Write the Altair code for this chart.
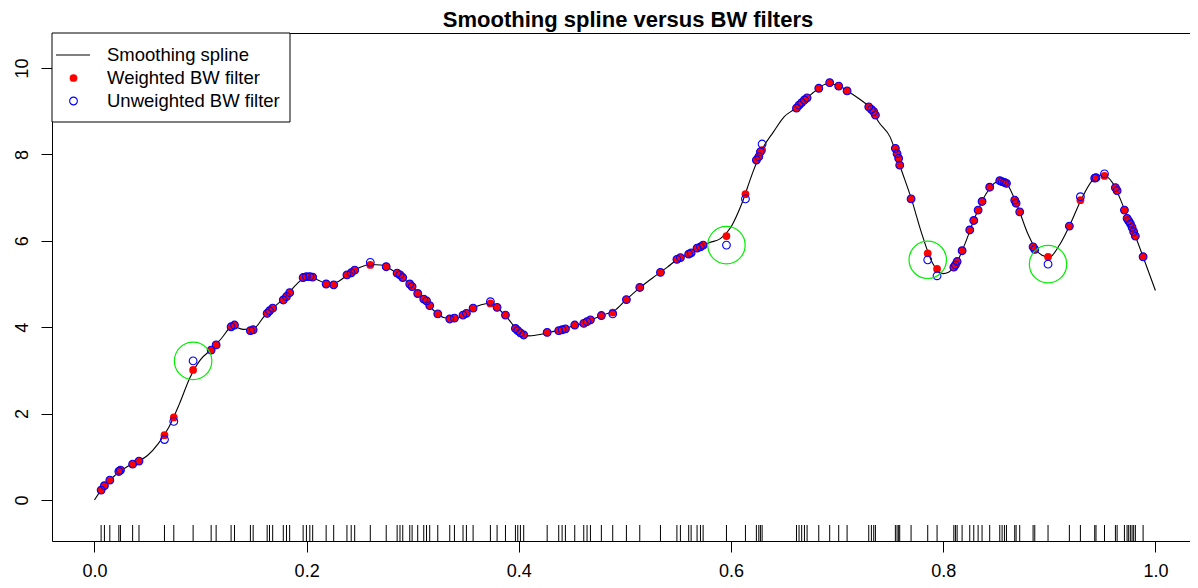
import altair as alt
import pandas as pd

# ---- data ----
x_obs = [0.0063, 0.0094, 0.0145, 0.023, 0.0245, 0.036, 0.042, 0.066, 0.0748, 0.093,
         0.110, 0.1147, 0.1288, 0.132, 0.147, 0.1496, 0.1628, 0.165, 0.168, 0.178,
         0.181, 0.184, 0.1967, 0.1998, 0.203, 0.2057, 0.2184, 0.2255, 0.238, 0.242,
         0.2453, 0.260, 0.275, 0.2853, 0.288, 0.2906, 0.2972, 0.2994, 0.3047, 0.3104,
         0.313, 0.316, 0.3236, 0.3349, 0.3393, 0.3474, 0.3506, 0.3569, 0.3732, 0.3795,
         0.3874, 0.3968, 0.399, 0.4015, 0.4046, 0.4267, 0.4376, 0.4408, 0.4439, 0.4527,
         0.4612, 0.4643, 0.4675, 0.4778, 0.4885, 0.5014, 0.514, 0.5335, 0.549, 0.5523,
         0.5601, 0.5624, 0.568, 0.5712, 0.5737, 0.5957, 0.6136, 0.6239, 0.6262, 0.6277,
         0.6293, 0.6617, 0.6641, 0.6666, 0.6692, 0.6717, 0.6827, 0.693, 0.7015, 0.7094,
         0.7298, 0.7323, 0.7345, 0.7361, 0.7549, 0.7565, 0.758, 0.759, 0.7697, 0.7854,
         0.7942, 0.810, 0.8115, 0.8131, 0.8178, 0.825, 0.8288, 0.8329, 0.8366, 0.8438,
         0.8533, 0.8555, 0.8577, 0.8596, 0.8674, 0.8687, 0.8721, 0.8847, 0.8863, 0.8988,
         0.9189, 0.9293, 0.9428, 0.944, 0.952, 0.9623, 0.9639, 0.9708, 0.9733, 0.9748,
         0.9764, 0.978, 0.9795, 0.9811, 0.9884]

y_weighted = [0.23, 0.33, 0.46, 0.66, 0.69, 0.83, 0.90, 1.50, 1.91, 3.01,
              3.47, 3.59, 4.01, 4.05, 3.92, 3.94, 4.32, 4.38, 4.44, 4.63,
              4.71, 4.80, 5.15, 5.17, 5.17, 5.16, 5.00, 4.98, 5.21, 5.26,
              5.32, 5.44, 5.40, 5.25, 5.21, 5.15, 5.00, 4.94, 4.78, 4.65,
              4.61, 4.50, 4.31, 4.19, 4.21, 4.28, 4.32, 4.44, 4.55, 4.46,
              4.28, 3.97, 3.92, 3.87, 3.82, 3.88, 3.92, 3.94, 3.96, 4.05,
              4.09, 4.13, 4.17, 4.27, 4.34, 4.64, 4.92, 5.27, 5.57, 5.61,
              5.69, 5.72, 5.83, 5.86, 5.90, 6.11, 7.08, 7.87, 7.95, 8.06,
              8.10, 9.07, 9.14, 9.20, 9.26, 9.31, 9.53, 9.66, 9.58, 9.47,
              9.10, 9.04, 8.99, 8.91, 8.14, 8.02, 7.91, 7.75, 6.97, 5.71,
              5.35, 5.39, 5.44, 5.52, 5.77, 6.25, 6.47, 6.71, 6.91, 7.24,
              7.39, 7.37, 7.35, 7.33, 6.94, 6.87, 6.67, 5.86, 5.80, 5.63,
              6.34, 6.94, 7.45, 7.46, 7.50, 7.23, 7.16, 6.71, 6.52, 6.46,
              6.40, 6.31, 6.21, 6.11, 5.63]

y_unweighted = [0.23, 0.33, 0.46, 0.66, 0.69, 0.83, 0.90, 1.40, 1.82, 3.22,
                3.47, 3.59, 4.01, 4.05, 3.92, 3.94, 4.32, 4.38, 4.44, 4.63,
                4.71, 4.80, 5.15, 5.17, 5.17, 5.16, 5.00, 4.98, 5.21, 5.26,
                5.32, 5.50, 5.40, 5.25, 5.21, 5.15, 5.00, 4.94, 4.78, 4.65,
                4.61, 4.50, 4.31, 4.19, 4.21, 4.28, 4.32, 4.44, 4.59, 4.46,
                4.28, 3.97, 3.92, 3.87, 3.82, 3.88, 3.92, 3.94, 3.96, 4.05,
                4.09, 4.13, 4.17, 4.27, 4.31, 4.64, 4.92, 5.27, 5.57, 5.61,
                5.69, 5.72, 5.83, 5.86, 5.90, 5.90, 6.97, 7.87, 7.95, 8.06,
                8.24, 9.07, 9.14, 9.20, 9.26, 9.31, 9.53, 9.66, 9.58, 9.47,
                9.10, 9.04, 8.99, 8.91, 8.14, 8.02, 7.91, 7.75, 6.97, 5.56,
                5.19, 5.39, 5.44, 5.52, 5.77, 6.25, 6.47, 6.71, 6.91, 7.24,
                7.39, 7.37, 7.35, 7.33, 6.94, 6.87, 6.67, 5.86, 5.80, 5.46,
                6.34, 7.02, 7.45, 7.46, 7.55, 7.23, 7.16, 6.71, 6.52, 6.46,
                6.40, 6.31, 6.21, 6.11, 5.63]

spline_x = [0.00, 0.01, 0.02, 0.03, 0.04, 0.05, 0.06, 0.07, 0.08, 0.09,
            0.10, 0.11, 0.12, 0.13, 0.14, 0.15, 0.16, 0.17, 0.18, 0.19,
            0.20, 0.21, 0.22, 0.23, 0.24, 0.25, 0.26, 0.27, 0.28, 0.29,
            0.30, 0.31, 0.32, 0.33, 0.34, 0.35, 0.36, 0.37, 0.375, 0.38,
            0.39, 0.40, 0.41, 0.42, 0.43, 0.44, 0.45, 0.46, 0.47, 0.48,
            0.49, 0.50, 0.51, 0.52, 0.53, 0.54, 0.55, 0.56, 0.57, 0.58,
            0.59, 0.60, 0.61, 0.62, 0.63, 0.64, 0.65, 0.66, 0.67, 0.68,
            0.69, 0.70, 0.71, 0.72, 0.73, 0.74, 0.75, 0.76, 0.77, 0.78,
            0.79, 0.80, 0.81, 0.82, 0.83, 0.84, 0.85, 0.855, 0.86, 0.87,
            0.88, 0.89, 0.90, 0.91, 0.92, 0.93, 0.94, 0.95, 0.96, 0.97,
            0.98, 0.99, 1.00]
spline_y = [0.00, 0.35, 0.58, 0.76, 0.88, 1.03, 1.30, 1.68, 2.22, 2.83,
            3.25, 3.48, 3.75, 4.02, 3.95, 3.97, 4.25, 4.48, 4.70, 4.98,
            5.16, 5.10, 5.00, 5.06, 5.24, 5.38, 5.45, 5.44, 5.33, 5.16,
            4.92, 4.66, 4.38, 4.22, 4.20, 4.31, 4.48, 4.55, 4.56, 4.45,
            4.19, 3.90, 3.80, 3.83, 3.89, 3.94, 4.02, 4.08, 4.19, 4.29,
            4.38, 4.61, 4.83, 5.03, 5.21, 5.39, 5.58, 5.69, 5.85, 5.96,
            6.05, 6.32, 6.85, 7.55, 8.15, 8.52, 8.87, 9.05, 9.27, 9.48,
            9.63, 9.61, 9.46, 9.30, 9.10, 8.72, 8.40, 7.68, 6.97, 6.15,
            5.48, 5.24, 5.38, 5.90, 6.55, 7.07, 7.36, 7.39, 7.32, 6.80,
            6.15, 5.72, 5.62, 5.92, 6.40, 6.95, 7.38, 7.53, 7.33, 6.78,
            6.18, 5.52, 4.85]

flag_x = [0.093, 0.5957, 0.7854, 0.8988]
flag_y = [3.22, 5.90, 5.56, 5.46]

TITLE = "Smoothing spline versus BW filters"
LEGEND_LABELS = ["Smoothing spline", "Weighted BW filter", "Unweighted BW filter"]
X_TICKS = [0.0, 0.2, 0.4, 0.6, 0.8, 1.0]
Y_TICKS = [0, 2, 4, 6, 8, 10]

# ---- layout ----
W, H = 1138, 508
FONT = "Liberation Sans"

xs = alt.Scale(domain=[-0.04, 1.0326], nice=False, zero=False)
ys = alt.Scale(domain=[-0.949, 10.81], nice=False, zero=False)

x_axis = alt.Axis(values=X_TICKS, format=".1f", title=None, grid=False, domain=False,
                  tickSize=11, tickColor="black", labelColor="black", labelFont=FONT,
                  labelFontSize=18, labelPadding=24, labelBaseline="alphabetic",
                  labelFlush=False, labelOverlap=False)
y_axis = alt.Axis(values=Y_TICKS, format="d", title=None, grid=False, domain=False,
                  tickSize=11, tickColor="black", labelColor="black", labelFont=FONT,
                  labelFontSize=18, labelAngle=270, labelAlign="center",
                  labelBaseline="alphabetic", labelPadding=14, labelFlush=False,
                  labelOverlap=False)

X = alt.X("x:Q", scale=xs, axis=x_axis)
Y = alt.Y("y:Q", scale=ys, axis=y_axis)

curve_df = pd.DataFrame({"x": spline_x, "y": spline_y})
red_df = pd.DataFrame({"x": x_obs, "y": y_weighted})
blue_df = pd.DataFrame({"x": x_obs, "y": y_unweighted})
flag_df = pd.DataFrame({"x": flag_x, "y": flag_y})
rug_df = pd.DataFrame({"x": x_obs})
one = pd.DataFrame({"a": [0]})

PT = 60

line = alt.Chart(curve_df).mark_line(color="black", strokeWidth=1.1,
                                     interpolate="monotone").encode(x=X, y=Y)
red = alt.Chart(red_df).mark_circle(color="#FF0000", opacity=1, size=PT).encode(x=X, y=Y)
blue = alt.Chart(blue_df).mark_point(shape="circle", filled=False, color="#0000FF",
                                     opacity=1, strokeWidth=1.1, size=PT).encode(x=X, y=Y)
flags = alt.Chart(flag_df).mark_point(shape="circle", filled=False, color="#00EE00",
                                      opacity=1, strokeWidth=1.2, size=1400).encode(x=X, y=Y)
rug = alt.Chart(rug_df).mark_rule(color="black", strokeWidth=1).encode(
    x=X, y=alt.value(H), y2=alt.value(H - 16))

# legend (manual, R-style box)
LX0, LY0, LX1, LY1 = 0, 0, 238, 89
rows = [22, 45, 68]
leg_box = alt.Chart(one).mark_rect(fill="white", stroke="black", strokeWidth=1).encode(
    x=alt.value(LX0), x2=alt.value(LX1), y=alt.value(LY0), y2=alt.value(LY1))
leg_line = alt.Chart(one).mark_rule(color="black", strokeWidth=1.1).encode(
    x=alt.value(4), x2=alt.value(38), y=alt.value(rows[0]))
leg_red = alt.Chart(one).mark_circle(color="#FF0000", opacity=1, size=PT).encode(
    x=alt.value(21.5), y=alt.value(rows[1]))
leg_blue = alt.Chart(one).mark_point(shape="circle", filled=False, color="#0000FF",
                                     opacity=1, strokeWidth=1.1, size=PT).encode(
    x=alt.value(21.5), y=alt.value(rows[2]))
leg_texts = [
    alt.Chart(one).mark_text(text=lab, align="left", baseline="middle", font=FONT,
                             fontSize=18.5, color="black").encode(
        x=alt.value(55), y=alt.value(r))
    for lab, r in zip(LEGEND_LABELS, rows)
]

title = alt.Chart(one).mark_text(text=TITLE, align="center", baseline="middle", font=FONT,
                                 fontSize=22, fontWeight="bold", color="black").encode(
    x=alt.value(576), y=alt.value(-13))

chart = alt.layer(line, red, blue, flags, rug, leg_box, leg_line, leg_red, leg_blue,
                  *leg_texts, title).properties(
    width=W, height=H,
    autosize=alt.AutoSizeParams(type="none"),
    padding={"left": 44, "top": 25, "right": 0, "bottom": 38},
    background="white",
).configure_view(stroke="black", strokeWidth=1)

chart.save("out.html", embed_options={"renderer": "svg", "actions": False})
